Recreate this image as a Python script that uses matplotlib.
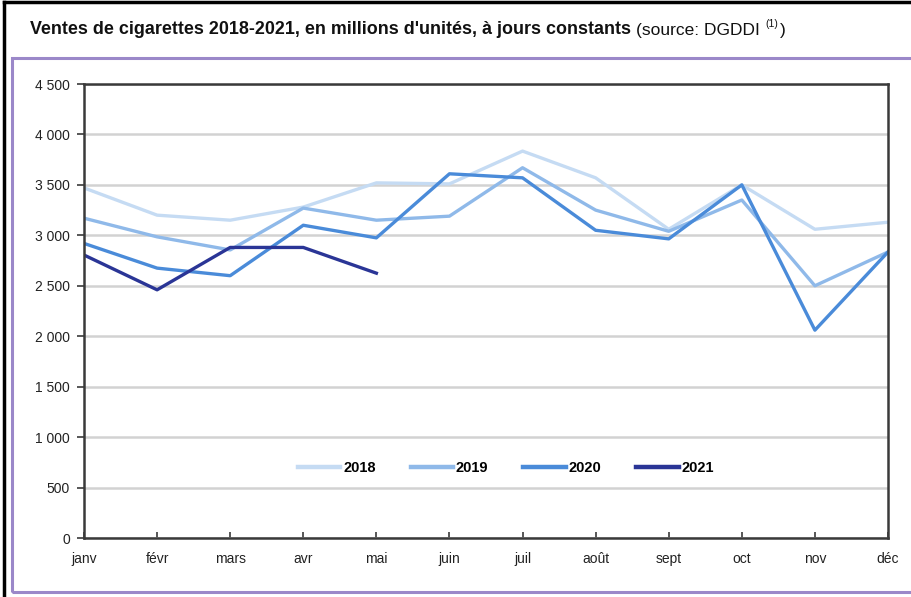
import matplotlib
matplotlib.use("Agg")
import matplotlib.pyplot as plt
from matplotlib.patches import Rectangle
from matplotlib.lines import Line2D

plt.rcParams['font.family'] = ['Liberation Sans', 'DejaVu Sans']

months = ["janv", "févr", "mars", "avr", "mai", "juin", "juil", "août", "sept", "oct", "nov", "déc"]
y2018 = [3470, 3200, 3150, 3280, 3520, 3510, 3835, 3570, 3060, 3500, 3060, 3130]
y2019 = [3170, 2985, 2855, 3270, 3150, 3190, 3670, 3250, 3040, 3350, 2500, 2835]
y2020 = [2920, 2675, 2600, 3100, 2975, 3610, 3570, 3050, 2965, 3500, 2060, 2835]
y2021 = [2805, 2460, 2880, 2880, 2625]
yticks = [0, 500, 1000, 1500, 2000, 2500, 3000, 3500, 4000, 4500]
ytick_labels = ["0", "500", "1 000", "1 500", "2 000", "2 500", "3 000", "3 500", "4 000", "4 500"]

W, H = 912, 597
fig = plt.figure(figsize=(W/100, H/100), dpi=100)

# outer borders
fig.add_artist(Line2D([4/W, 4/W], [0, 1-2/H], color='black', lw=2.5, transform=fig.transFigure))
fig.add_artist(Line2D([4/W, 1], [1-2/H, 1-2/H], color='black', lw=2.5, transform=fig.transFigure))
fig.add_artist(Rectangle((12/W, (H-592)/H), 1.2, (592-58)/H, transform=fig.transFigure,
                         fill=False, edgecolor='#9b88c9', lw=2.2))

ax = fig.add_axes([84/W, (H-538)/H, (888-84)/W, (538-84)/H])
x = list(range(len(months)))
ax.plot(x, y2018, color='#c5dbf3', lw=2.4, label='2018')
ax.plot(x, y2019, color='#8fb9e9', lw=2.4, label='2019')
ax.plot(x, y2020, color='#4a8bd9', lw=2.4, label='2020')
ax.plot(x[:len(y2021)], y2021, color='#2a3596', lw=2.4, label='2021')

ax.set_xlim(0, len(months)-1)
ax.set_ylim(0, 4500)
ax.set_yticks(yticks)
ax.set_yticklabels(ytick_labels)
ax.set_xticks(x)
ax.set_xticklabels(months)
ax.yaxis.grid(True, color='#d2d2d2', lw=1.8)
ax.set_axisbelow(True)
for s in ax.spines.values():
    s.set_color('#3a3a3a')
    s.set_linewidth(1.8)
ax.tick_params(axis='y', direction='out', length=5, width=1.2, color='#3a3a3a', labelsize=10, pad=5, labelcolor='#222222')
ax.tick_params(axis='x', direction='in', length=4, width=1.2, color='#3a3a3a', labelsize=10, pad=10, labelcolor='#222222')

leg = ax.legend(loc='center', bbox_to_anchor=(0.525, 0.155), ncol=4, frameon=False,
                handlelength=2.9, handletextpad=0.2, columnspacing=2.4,
                prop={'weight': 'bold', 'size': 10.5})
for line in leg.get_lines():
    line.set_linewidth(3.2)

# title
t1 = fig.text(30/W, 1-30/H, "Ventes de cigarettes 2018-2021, en millions d'unités, à jours constants",
              fontsize=12.9, fontweight='bold', va='center', ha='left', color='#111111')
fig.canvas.draw()
r = fig.canvas.get_renderer()
bb = t1.get_window_extent(r)
t2 = fig.text((bb.x1 + 5)/W, 1-30/H, "(source: DGDDI", fontsize=12.5, va='center', ha='left', color='#111111')
bb2 = t2.get_window_extent(r)
t3 = fig.text((bb2.x1 + 6)/W, 1-24/H, "(1)", fontsize=7.5, va='center', ha='left', color='#111111')
bb3 = t3.get_window_extent(r)
fig.text((bb3.x1 + 1)/W, 1-30/H, ")", fontsize=12.5, va='center', ha='left', color='#111111')

fig.savefig("out.png", dpi=100)
